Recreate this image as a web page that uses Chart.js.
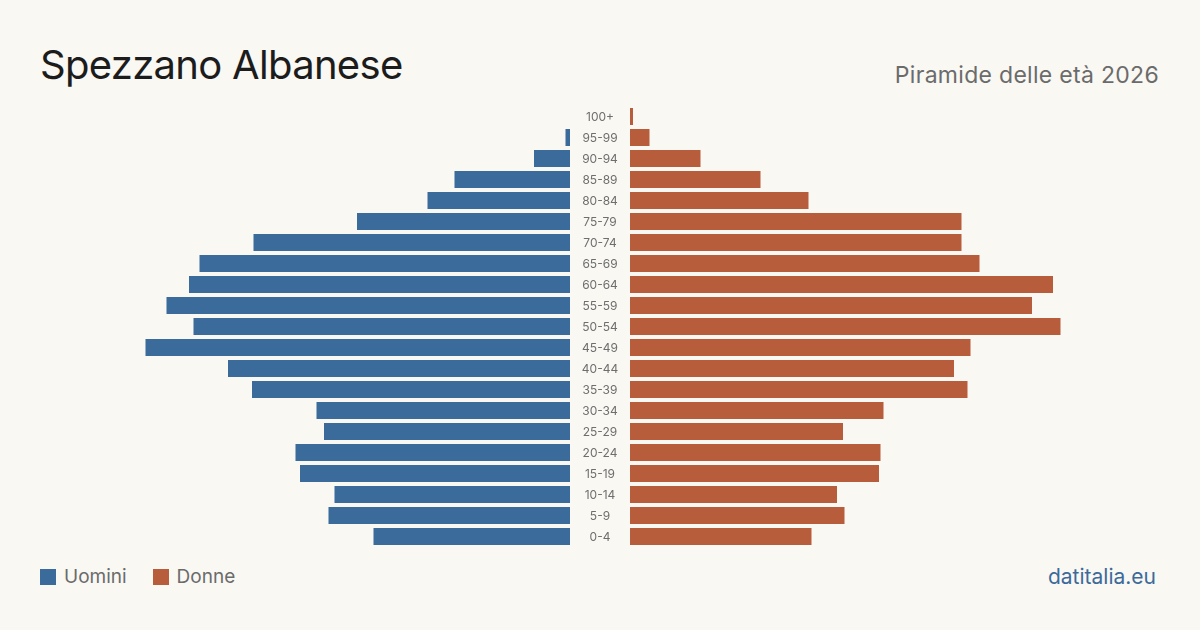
<!DOCTYPE html>
<html lang="it">
<head>
<meta charset="utf-8">
<title>Spezzano Albanese - Piramide delle età 2026</title>
<script src="https://cdn.jsdelivr.net/npm/chart.js@4/dist/chart.umd.min.js"></script>
<style>
    html, body { margin: 0; padding: 0; }
    body {
        width: 1200px; height: 630px; position: relative; overflow: hidden;
        background: #f9f8f3; font-family: "Inter", "Noto Sans", sans-serif;
    }
    .title { position: absolute; left: 40px; top: 45px; font-size: 40px; letter-spacing: -0.7px; color: #1c1c1c; line-height: 1; }
    .subtitle { position: absolute; right: 41px; top: 64px; font-size: 23px; letter-spacing: 0.3px; color: #6b6b6b; line-height: 1; }
    .chart-box { position: absolute; left: 0; top: 106px; width: 1200px; height: 441px; }
    .legend { position: absolute; left: 40px; top: 565px; font-size: 19px; color: #6b6b6b; display: flex; align-items: center; }
    .legend span.sw { display: inline-block; width: 16px; height: 16px; margin-right: 8px; }
    .legend .item { display: flex; align-items: center; margin-right: 26px; }
    .source { position: absolute; right: 44px; top: 564px; font-size: 21px; color: #3d6a9a; }
</style>
</head>
<body>
<div class="title">Spezzano Albanese</div>
<div class="subtitle">Piramide delle età 2026</div>
<div class="chart-box"><canvas id="pyramid"></canvas></div>
<div class="legend">
    <div class="item"><span class="sw" style="background:#3b6b9b"></span>Uomini</div>
    <div class="item"><span class="sw" style="background:#b85d3c"></span>Donne</div>
</div>
<div class="source">datitalia.eu</div>

<script>
    // Age classes, top to bottom
    const ageClasses = ["100+", "95-99", "90-94", "85-89", "80-84", "75-79", "70-74", "65-69",
        "60-64", "55-59", "50-54", "45-49", "40-44", "35-39", "30-34", "25-29",
        "20-24", "15-19", "10-14", "5-9", "0-4"];

    const men = [0, 3, 24, 77, 95, 142, 211, 247, 254, 269, 251, 283, 228, 212, 169, 164, 183, 180, 157, 161, 131];
    const women = [2, 13, 47, 87, 119, 221, 221, 233, 282, 268, 287, 227, 216, 225, 169, 142, 167, 166, 138, 143, 121];

    const GAP = 20; // half of the middle column, in data units

    // Middle labels
    const ageLabels = {
        id: "ageLabels",
        afterDatasetsDraw(chart) {
            const ctx = chart.ctx;
            const x = chart.scales.x.getPixelForValue(0);
            ctx.save();
            ctx.font = "12px Inter, 'Noto Sans', sans-serif";
            ctx.fillStyle = "#6e6e6e";
            ctx.textAlign = "center";
            ctx.textBaseline = "middle";
            ageClasses.forEach(function (lab, i) {
                ctx.fillText(lab, x, chart.scales.y.getPixelForValue(i) + 1);
            });
            ctx.restore();
        }
    };

    new Chart(document.getElementById("pyramid"), {
        type: "bar",
        data: {
            labels: ageClasses,
            datasets: [
                {
                    label: "Uomini",
                    data: men.map(function (v) { return [-GAP - v, -GAP]; }),
                    backgroundColor: "#3b6b9b"
                },
                {
                    label: "Donne",
                    data: women.map(function (v) { return [GAP, GAP + v]; }),
                    backgroundColor: "#b85d3c"
                }
            ]
        },
        options: {
            indexAxis: "y",
            responsive: true,
            maintainAspectRatio: false,
            animation: false,
            layout: { padding: 0 },
            scales: {
                x: { display: false, min: -400, max: 400 },
                y: { display: false, stacked: true }
            },
            datasets: { bar: { barPercentage: 0.81, categoryPercentage: 1 } },
            plugins: { legend: { display: false }, tooltip: { enabled: false } }
        },
        plugins: [ageLabels]
    });
</script>
</body>
</html>
